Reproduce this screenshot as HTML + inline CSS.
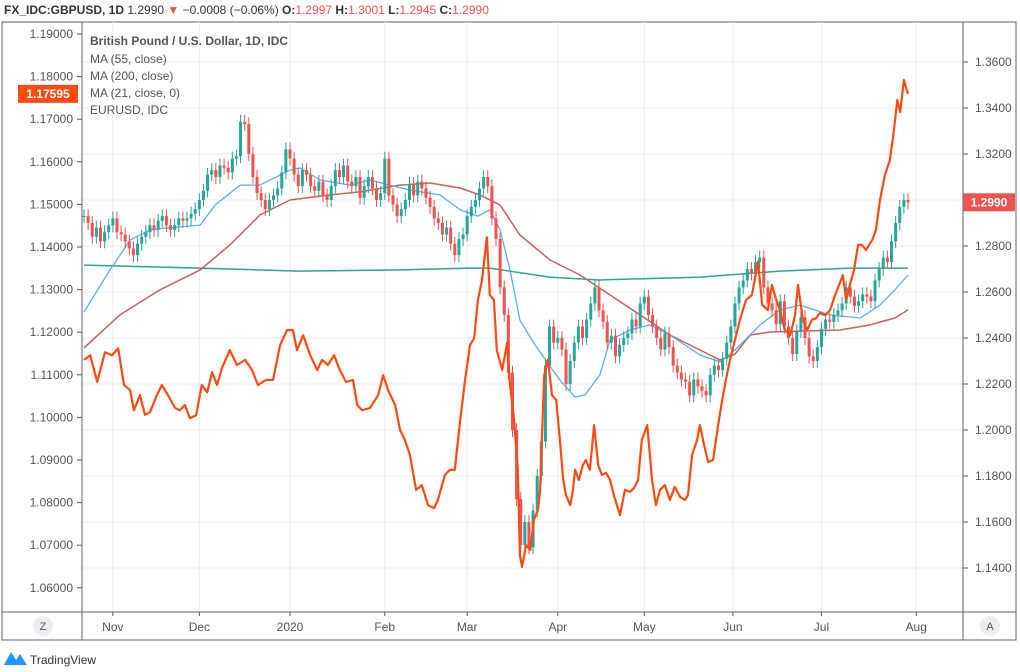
<!DOCTYPE html>
<html><head><meta charset="utf-8"><style>
body{margin:0;background:#fff;width:1020px;height:672px;overflow:hidden;font-family:"Liberation Sans",sans-serif}
svg{display:block}
</style></head><body>
<svg id="c" width="1020" height="672" viewBox="0 0 1020 672">
<text x="4" y="14" font-size="12" font-weight="bold" fill="#333">FX_IDC:GBPUSD, 1D <tspan font-weight="normal">1.2990</tspan> <tspan fill="#ef5350">▼</tspan> <tspan font-weight="normal">−0.0008 (−0.06%)</tspan> O:<tspan fill="#ef5350" font-weight="normal">1.2997</tspan> H:<tspan fill="#ef5350" font-weight="normal">1.3001</tspan> L:<tspan fill="#ef5350" font-weight="normal">1.2945</tspan> C:<tspan fill="#ef5350" font-weight="normal">1.2990</tspan></text>
<rect x="2" y="22" width="1014" height="618" fill="none" stroke="#5d606b" stroke-width="1"/>
<g id="grid"></g>
<g id="series"></g>
<line x1="82" y1="22" x2="82" y2="612" stroke="#5d606b"/>
<line x1="963" y1="22" x2="963" y2="612" stroke="#5d606b"/>
<line x1="2" y1="612" x2="1016" y2="612" stroke="#5d606b"/>
<line x1="82" y1="612" x2="82" y2="640" stroke="#5d606b"/>
<line x1="963" y1="612" x2="963" y2="640" stroke="#5d606b"/>
<g id="axes"></g>
<g id="legend" font-size="12" fill="#555">
<text x="90" y="45" font-weight="bold">British Pound / U.S. Dollar, 1D, IDC</text>
<text x="90" y="63">MA (55, close)</text>
<text x="90" y="80">MA (200, close)</text>
<text x="90" y="97">MA (21, close, 0)</text>
<text x="90" y="114">EURUSD, IDC</text>
</g>
<circle cx="43" cy="626" r="10" fill="#eceef2"/>
<text x="43" y="630" font-size="11" fill="#555" text-anchor="middle">Z</text>
<circle cx="990" cy="626" r="10" fill="#eceef2"/>
<text x="990" y="630" font-size="11" fill="#555" text-anchor="middle">A</text>
<g>
<path d="M4 665 L11 652 L16 660 L20 654 L27 665 Z" fill="#2196f3"/>
<text x="30" y="664" font-size="12" fill="#333">TradingView</text>
</g>
</svg>
<script>
const closes=[1.293,1.290,1.284,1.288,1.282,1.286,1.289,
1.292,1.286,1.285,1.282,1.279,1.276,1.281,
1.284,1.286,1.289,1.287,1.291,1.293,1.289,
1.287,1.289,1.292,1.291,1.292,1.294,1.296,
1.300,1.304,1.311,1.313,1.310,1.315,1.314,
1.312,1.318,1.319,1.334,
1.333,1.320,1.310,1.303,1.300,1.296,
1.300,1.302,1.305,1.312,1.322,
1.318,1.311,1.306,1.313,1.311,1.306,1.304,
1.308,1.302,1.300,1.306,1.313,1.310,1.315,
1.308,1.306,1.310,1.301,1.306,1.310,1.305,
1.300,1.303,1.318,
1.302,1.298,1.293,1.296,1.300,1.307,1.302,
1.308,1.305,1.301,1.297,1.292,1.290,1.285,
1.288,1.281,1.276,1.283,1.285,
1.293,1.297,1.300,1.305,1.310,
1.306,1.292,1.283,
1.262,1.250,1.225,1.200,1.170,1.150,1.160,
1.149,1.165,1.180,1.195,1.228,1.245,1.238,
1.240,1.235,1.220,1.230,1.238,1.245,1.240,
1.248,1.255,1.262,1.252,1.247,1.238,1.241,
1.232,1.237,1.240,1.242,1.248,1.245,1.255,
1.258,1.250,1.245,1.240,1.235,1.242,1.236,
1.228,1.225,1.222,1.221,1.215,1.222,1.219,
1.217,1.215,1.224,1.228,1.226,1.231,1.238,
1.245,1.255,1.262,1.265,1.270,1.268,1.273,
1.275,1.262,1.255,1.252,1.246,1.256,1.245,
1.240,1.233,1.243,1.249,1.240,1.232,1.230,
1.236,1.244,1.248,1.247,1.250,1.252,1.255,
1.262,1.258,1.254,1.256,1.259,1.258,1.256,
1.265,1.270,1.275,1.273,1.282,1.290,1.297,
1.300,1.299];
const ma55Idx=[0,6.3,11.2,16,19.7,28.2,31.8,37.9,42.7,50,52.4,57.3,64.6,69.4,74.3,79.1,86.4,91.3,95.6,98.5,101,103.4,105.8,109.5,115.5,119.2,121.6,125.2,127.7,132.5,137.4,142.2,149.5,154.4,158,164.1,168.9,173.8,181.1,188.4,193.2,196.8,200];
const ma55Val=[1.2513,1.2696,1.2826,1.2870,1.2878,1.2891,1.2978,1.3065,1.3065,1.3130,1.3139,1.3087,1.3065,1.3087,1.3065,1.3043,1.3022,1.2957,1.2930,1.2957,1.2870,1.2696,1.2478,1.2370,1.2217,1.2143,1.2152,1.2239,1.2391,1.2435,1.2457,1.2413,1.2326,1.2296,1.2348,1.2457,1.2522,1.2543,1.2500,1.2487,1.2543,1.2609,1.2674];
const ma200Idx=[0,8.7,18.4,28.2,35.4,42.7,50,59.7,67,76.7,84,91.3,96.1,101,105.8,113.1,120.4,127.7,135,142.2,149.5,154.4,158,161.7,166.5,173.8,183.5,190.8,196.8,200];
const ma200Val=[1.2357,1.2500,1.2609,1.2696,1.2804,1.2935,1.3000,1.3022,1.3035,1.3065,1.3074,1.3052,1.3022,1.2978,1.2848,1.2739,1.2674,1.2587,1.2500,1.2413,1.2348,1.2304,1.2330,1.2413,1.2426,1.2430,1.2435,1.2457,1.2487,1.2522];
const ma21Idx=[0,28,52,76.7,93.7,98.5,113,125,149.5,168.9,186,200];
const ma21Val=[1.2717,1.2704,1.2691,1.2696,1.2704,1.2704,1.2665,1.2652,1.2665,1.2691,1.2704,1.2704];
const eurIdx=[0,1.5,3.2,5.1,6.8,8.3,9.7,11.2,12.1,13.6,14.8,16.0,17.7,18.9,20.4,22.1,23.3,24.5,25.7,27.2,28.6,29.9,31.1,32.3,33.5,35.4,37.1,39.1,40.8,42.2,44.2,45.9,47.6,49.3,50.7,51.7,53.2,54.9,56.6,57.8,59.2,60.7,62.1,63.6,65.3,66.3,67.5,69.4,71.4,72.6,73.8,75.5,76.7,77.9,79.1,80.6,82.0,83.5,85.0,85.9,87.6,88.8,90.0,91.3,92.5,93.7,94.7,95.6,96.6,97.8,98.5,99.5,100.2,101.5,102.7,103.4,104.4,105.3,105.8,106.3,107.3,108.3,109.2,110.2,110.7,111.7,112.6,113.6,114.6,115.5,116.3,117.0,118.0,118.7,119.2,120.1,121.1,121.8,122.8,123.8,124.8,125.7,126.7,127.7,128.6,130.1,131.3,132.5,133.5,134.5,135.4,136.7,137.9,138.8,139.8,141.0,142.2,143.4,144.7,145.9,146.6,147.6,148.8,149.5,150.5,151.5,152.7,153.9,154.9,155.8,156.8,158.0,159.2,160.7,162.1,163.6,164.6,166.0,167.0,168.0,168.9,170.1,171.4,172.6,173.3,174.5,175.5,176.7,177.7,178.6,179.9,181.1,182.3,184.2,185.0,185.9,186.9,187.9,188.8,189.8,191.3,192.2,193.2,194.4,195.6,196.6,197.4,198.1,199.0,200.0];
const eurVal=[1.1135,1.1146,1.1083,1.1153,1.1146,1.1162,1.1076,1.1064,1.1017,1.1052,1.1006,1.1012,1.1052,1.1076,1.1052,1.1022,1.1017,1.1029,1.0998,1.1005,1.1076,1.1059,1.1106,1.1076,1.1116,1.1158,1.1123,1.1135,1.1111,1.1076,1.1088,1.1088,1.1170,1.1205,1.1205,1.1158,1.1193,1.1146,1.1111,1.1135,1.1123,1.1146,1.1111,1.1083,1.1088,1.1029,1.1017,1.1022,1.1052,1.1099,1.1064,1.1029,1.0971,1.0947,1.0912,1.0830,1.0841,1.0794,1.0787,1.0806,1.0865,1.0877,1.0877,1.0994,1.1088,1.1170,1.1186,1.1276,1.1322,1.1423,1.1287,1.1276,1.1158,1.1111,1.1174,1.1076,1.0994,1.0877,1.0677,1.0649,1.0700,1.0689,1.0759,1.0783,1.0830,1.1099,1.1135,1.1052,1.1041,1.0947,1.0853,1.0818,1.0794,1.0830,1.0877,1.0853,1.0888,1.0900,1.0877,1.0982,1.0888,1.0865,1.0870,1.0853,1.0818,1.0771,1.0830,1.0825,1.0834,1.0853,1.0947,1.0982,1.0853,1.0794,1.0830,1.0841,1.0806,1.0837,1.0813,1.0806,1.0818,1.0912,1.0947,1.0982,1.0935,1.0895,1.0900,1.0982,1.1041,1.1088,1.1135,1.1182,1.1229,1.1276,1.1287,1.1365,1.1264,1.1252,1.1311,1.1276,1.1252,1.1205,1.1193,1.1240,1.1311,1.1229,1.1205,1.1229,1.1233,1.1245,1.1240,1.1252,1.1287,1.1334,1.1276,1.1311,1.1346,1.1405,1.1405,1.1393,1.1416,1.1440,1.1510,1.1569,1.1604,1.1675,1.1745,1.1717,1.1792,1.17595];
const leftTicks=[1.19,1.18,1.17,1.16,1.15,1.14,1.13,1.12,1.11,1.10,1.09,1.08,1.07,1.06];
const rightTicks=[1.36,1.34,1.32,1.30,1.28,1.26,1.24,1.22,1.20,1.18,1.16,1.14];
const timeLabels=["Nov","Dec","2020","Feb","Mar","Apr","May","Jun","Jul","Aug"];
const timeIdx=[7,28,50,73,93,115,136,157.5,179,202];

const NS="http://www.w3.org/2000/svg";
const xS=i=>84+i*4.12;
const yR=p=>62+(1.36-p)*2300;
const yL=v=>34+(1.19-v)*4260;
function mk(tag,attrs,parent){const e=document.createElementNS(NS,tag);for(const k in attrs)e.setAttribute(k,attrs[k]);parent.appendChild(e);return e;}
const grid=document.getElementById('grid'),ser=document.getElementById('series'),ax=document.getElementById('axes');
rightTicks.forEach(t=>{const y=yR(t);
 const g=mk('line',{x1:82,x2:963,y1:y,y2:y,stroke:'#e8eef4'},grid);
 
 
 mk('line',{x1:963,x2:968,y1:y,y2:y,stroke:'#555'},ax);
 const tx=mk('text',{x:975,y:y+4,'font-size':12,fill:'#555'},ax);tx.textContent=t.toFixed(4);
 
 
});
leftTicks.forEach(t=>{const y=yL(t);
 mk('line',{x1:77,x2:82,y1:y,y2:y,stroke:'#555'},ax);
 const tx=mk('text',{x:73,y:y+4,'font-size':12,fill:'#555','text-anchor':'end'},ax);tx.textContent=t.toFixed(5);
 
 
});
timeIdx.forEach((t,k)=>{const x=xS(t);
 const g=mk('line',{x1:x,x2:x,y1:22,y2:612,stroke:'#e8eef4'},grid);
 
 
 mk('line',{x1:x,x2:x,y1:612,y2:616,stroke:'#555'},ax);
 const tx=mk('text',{x:x,y:631,'font-size':12,fill:'#555','text-anchor':'middle'},ax);tx.textContent=timeLabels[k];
 
 
});
function line(idx,val,yf,color,w,name){let d='';idx.forEach((i,k)=>{d+=(k?'L':'M')+xS(i).toFixed(1)+' '+yf(val[k]).toFixed(1)});
 const p=mk('path',{d:d,fill:'none',stroke:color,'stroke-width':w,'stroke-linejoin':'round'},ser);
 
 }
line(ma21Idx,ma21Val,yR,'#2ea58e',1.5,'ma21-line');
line(ma200Idx,ma200Val,yR,'#c9605c',1.5,'ma200-line');
line(ma55Idx,ma55Val,yR,'#5aaef0',1.3,'ma55-line');
closes.forEach((c,i)=>{const o=i?closes[i-1]:c;const up=c>=o;const col=up?'#26a69a':'#ef5350';
 const x=xS(i);const hi=Math.max(o,c)+0.003,lo=Math.min(o,c)-0.003;
 const g=mk('g',{},ser);
 
 
 mk('line',{x1:x,x2:x,y1:yR(hi),y2:yR(lo),stroke:col,'stroke-width':1},g);
 const y1=yR(Math.max(o,c)),y2=yR(Math.min(o,c));
 mk('rect',{x:x-1.5,y:y1,width:3,height:Math.max(1,y2-y1),fill:col},g);
});
line(eurIdx,eurVal,yL,'#ff4a12',2.2,'eurusd-line');
const lv=eurVal[eurVal.length-1],ly=yL(lv);
const lb=mk('rect',{x:18,y:ly-9,width:60,height:18,fill:'#ff4a12'},ax);


const lt=mk('text',{x:48,y:ly+4,'font-size':12,fill:'#fff','text-anchor':'middle','font-weight':'bold'},ax);lt.textContent=lv.toFixed(5);
const rv=closes[closes.length-1],ry=yR(rv);
const rb=mk('rect',{x:963,y:ry-9,width:52,height:18,fill:'#ef5350'},ax);


const rt=mk('text',{x:989,y:ry+4,'font-size':12,fill:'#fff','text-anchor':'middle','font-weight':'bold'},ax);rt.textContent=rv.toFixed(4);
</script>
</body></html>
